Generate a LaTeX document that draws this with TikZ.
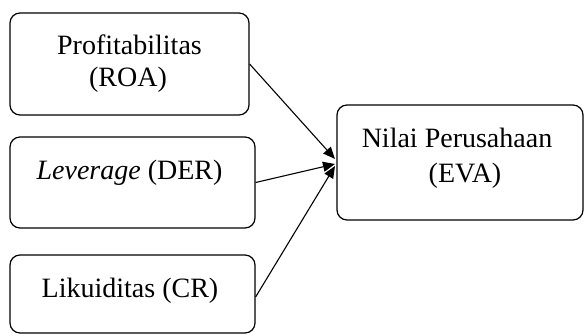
\documentclass[tikz,border=0pt]{standalone}
\usepackage{fontspec}
\setmainfont{Liberation Serif}
\usetikzlibrary{arrows.meta}
\begin{document}
\begin{tikzpicture}[x=1pt,y=-1pt,
  box/.style={draw, rounded corners=10pt, line width=1.2pt, inner sep=0pt},
  txt/.style={anchor=base, inner sep=0pt, font=\fontsize{28}{32}\selectfont},
  conn/.style={line width=1.1pt, -{Triangle[length=12pt,width=10pt]}}]
\useasboundingbox (0,0) rectangle (585,336);
\node[box, minimum width=239pt, minimum height=102pt] (b1) at (129.5,64) {};
\node[box, minimum width=245pt, minimum height=91pt] (b2) at (132.5,182.5) {};
\node[box, minimum width=245pt, minimum height=78pt] (b3) at (132.5,294) {};
\node[box, minimum width=246pt, minimum height=115pt] (eva) at (460,162.5) {};
\node[txt] (t1a) at (129.5,55) {Profitabilitas};
\node[txt] (t1b) at (128,87) {(ROA)};
\node[txt] (t2) at (129.5,180) {\textit{Leverage} (DER)};
\node[txt] (t3) at (130,297) {Likuiditas (CR)};
\node[txt] (t4a) at (457,148) {Nilai Perusahaan};
\node[txt] (t4b) at (465,183) {(EVA)};
\coordinate (e1) at (335,159);
\coordinate (e2) at (335,164);
\coordinate (e3) at (335,166);
\draw[conn] (b1.east) -- (e1);
\draw[conn] (b2.east) -- (e2);
\draw[conn] ([yshift=-3pt]b3.east) -- (e3);
\end{tikzpicture}
\end{document}
